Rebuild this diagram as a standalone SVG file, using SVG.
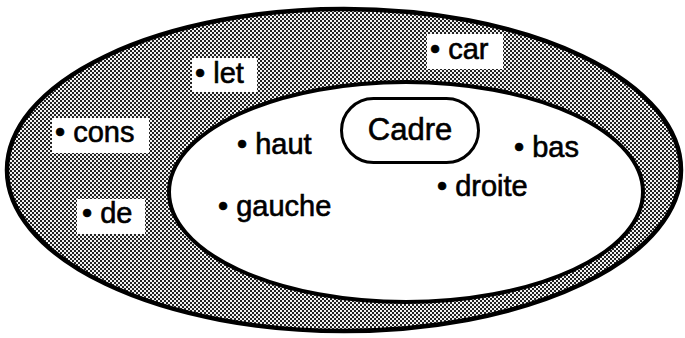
<svg xmlns="http://www.w3.org/2000/svg" width="685" height="338" viewBox="0 0 685 338">
  <defs>
    <pattern id="stipple" width="4" height="4" patternUnits="userSpaceOnUse">
      <rect width="4" height="4" fill="#f2f2f2"/>
      <rect x="0" y="0" width="2" height="2" fill="#222"/>
      <rect x="2" y="2" width="2" height="2" fill="#222"/>
    </pattern>
  </defs>
  <style>
    text { font-family: "Liberation Sans", Arial, Helvetica, sans-serif; font-size: 29px; fill: #000; stroke: #000; stroke-width: 0.6; }
    .lbl { fill: #fff; stroke: none; }
    .cadre { fill: #fff; stroke: #000; stroke-width: 3; }
  </style>
  <rect width="685" height="338" fill="#fff"/>
  <g id="outer">
    <ellipse cx="344" cy="170" rx="337" ry="161" fill="url(#stipple)" stroke="#000" stroke-width="4.5"/>
  </g>
  <g id="inner">
    <ellipse cx="406" cy="192" rx="237" ry="110" fill="#fff" stroke="#000" stroke-width="4"/>
  </g>
  <g id="let">
    <rect class="lbl" x="192" y="58" width="65" height="34"/>
    <text x="195" y="83">• let</text>
  </g>
  <g id="car">
    <rect class="lbl" x="427" y="34" width="76" height="35"/>
    <text x="430" y="59">• car</text>
  </g>
  <g id="cons">
    <rect class="lbl" x="52" y="118" width="97" height="35"/>
    <text x="55" y="142">• cons</text>
  </g>
  <g id="de">
    <rect class="lbl" x="77" y="199" width="68" height="35"/>
    <text x="82" y="223">• de</text>
  </g>
  <g id="cadre">
    <rect class="cadre" x="341.5" y="98.5" width="137" height="64" rx="32" ry="32"/>
    <text x="410" y="140" text-anchor="middle" style="font-size:31px">Cadre</text>
  </g>
  <g id="haut">
    <text x="237" y="154">• haut</text>
  </g>
  <g id="gauche">
    <text x="218" y="216">• gauche</text>
  </g>
  <g id="bas">
    <text x="514" y="157">• bas</text>
  </g>
  <g id="droite">
    <text x="437" y="196">• droite</text>
  </g>
  <g id="connectors"></g>
</svg>
